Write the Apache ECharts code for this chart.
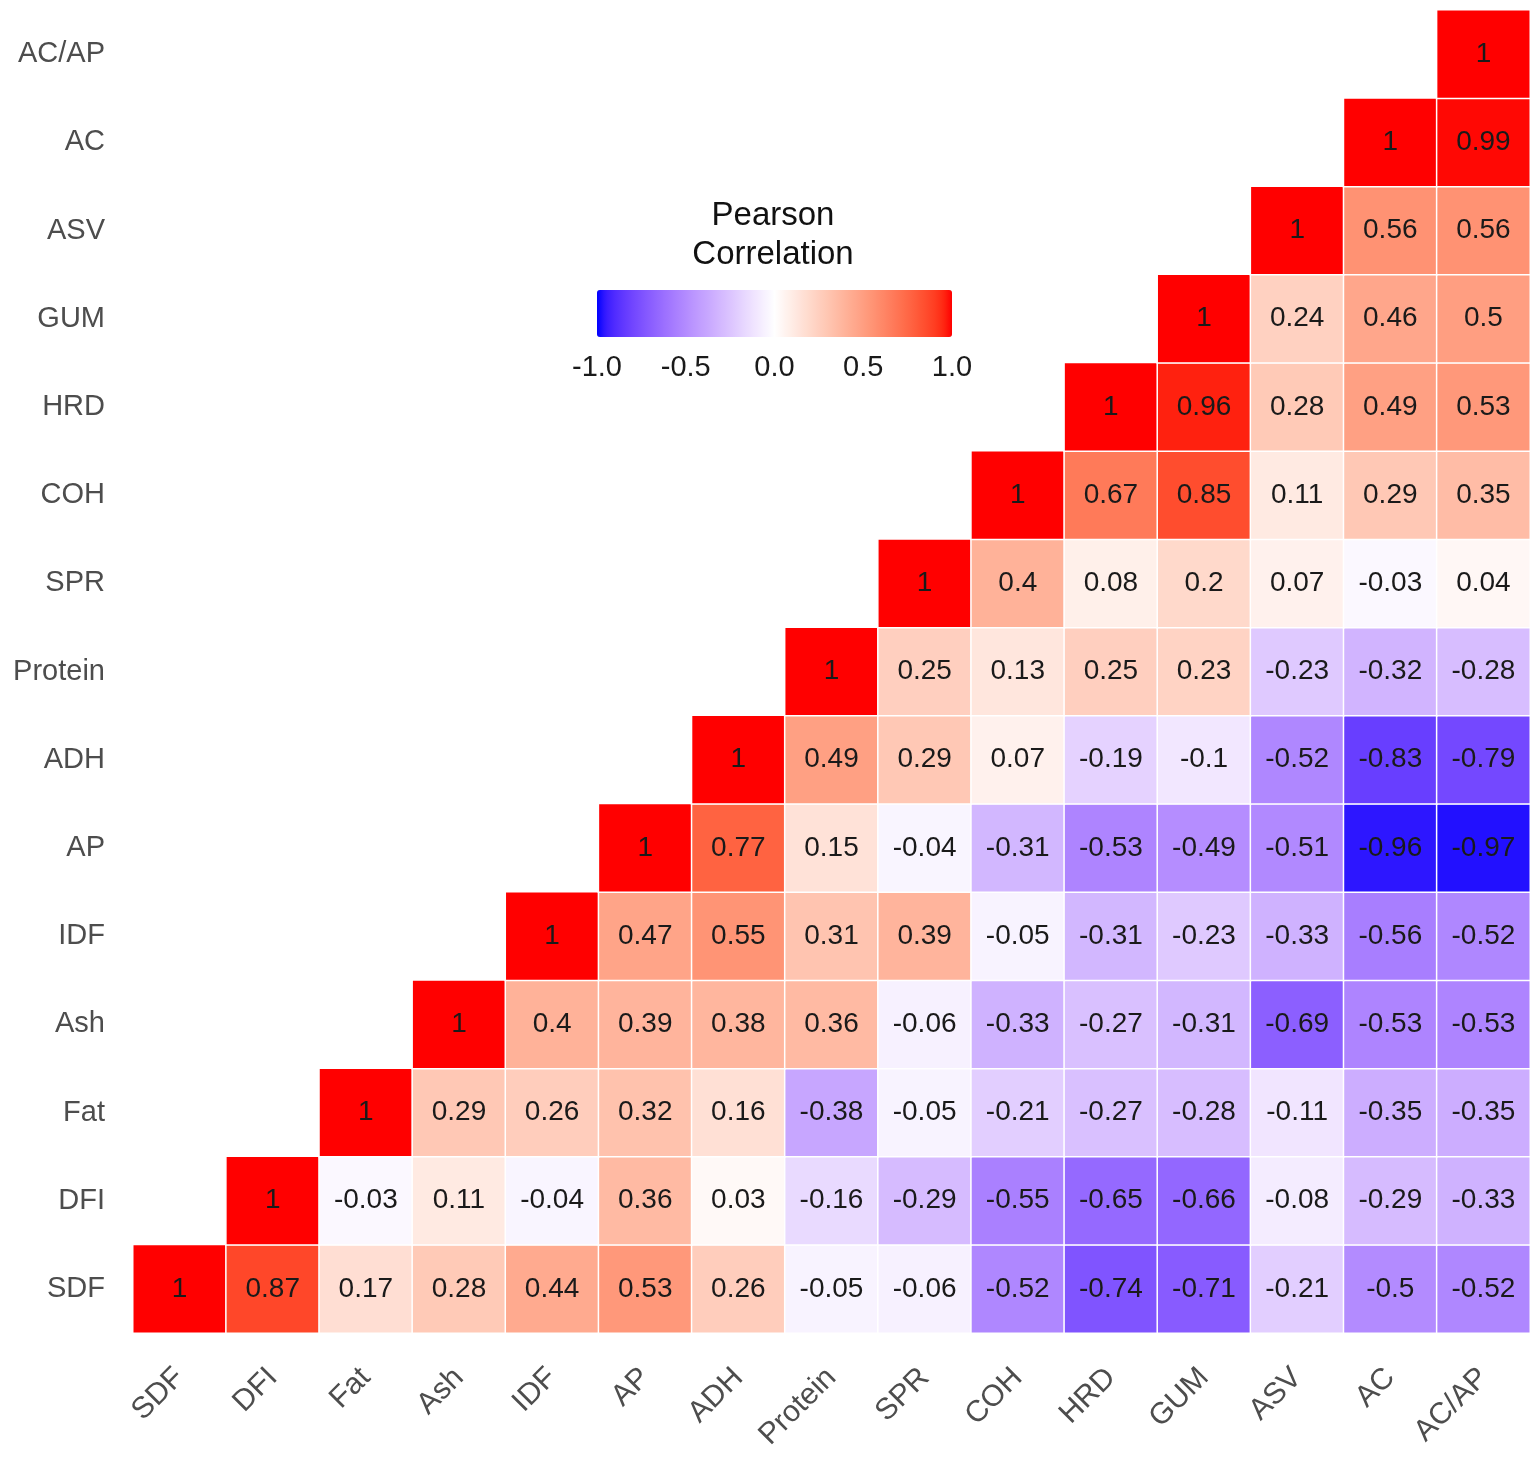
<!DOCTYPE html>
<html lang="en">
<head>
    <meta charset="UTF-8">
    <title>Pearson Correlation</title>
    <script src="https://cdn.jsdelivr.net/npm/echarts@6/dist/echarts.min.js"></script>
    <style>
        html, body { margin: 0; padding: 0; background: #fff; }
        #main { width: 1535px; height: 1462px; }
    </style>
</head>
<body>
    <div id="main"></div>
    <script>
        // variables, bottom to top on y, left to right on x
        var vars = ['SDF', 'DFI', 'Fat', 'Ash', 'IDF', 'AP', 'ADH', 'Protein', 'SPR', 'COH', 'HRD', 'GUM', 'ASV', 'AC', 'AC/AP'];

        // each row starts at the diagonal and runs right
        var rowSDF = [1, 0.87, 0.17, 0.28, 0.44, 0.53, 0.26, -0.05, -0.06, -0.52, -0.74, -0.71, -0.21, -0.5, -0.52];
        var rowDFI = [1, -0.03, 0.11, -0.04, 0.36, 0.03, -0.16, -0.29, -0.55, -0.65, -0.66, -0.08, -0.29, -0.33];
        var rowFat = [1, 0.29, 0.26, 0.32, 0.16, -0.38, -0.05, -0.21, -0.27, -0.28, -0.11, -0.35, -0.35];
        var rowAsh = [1, 0.4, 0.39, 0.38, 0.36, -0.06, -0.33, -0.27, -0.31, -0.69, -0.53, -0.53];
        var rowIDF = [1, 0.47, 0.55, 0.31, 0.39, -0.05, -0.31, -0.23, -0.33, -0.56, -0.52];
        var rowAP = [1, 0.77, 0.15, -0.04, -0.31, -0.53, -0.49, -0.51, -0.96, -0.97];
        var rowADH = [1, 0.49, 0.29, 0.07, -0.19, -0.1, -0.52, -0.83, -0.79];
        var rowProtein = [1, 0.25, 0.13, 0.25, 0.23, -0.23, -0.32, -0.28];
        var rowSPR = [1, 0.4, 0.08, 0.2, 0.07, -0.03, 0.04];
        var rowCOH = [1, 0.67, 0.85, 0.11, 0.29, 0.35];
        var rowHRD = [1, 0.96, 0.28, 0.49, 0.53];
        var rowGUM = [1, 0.24, 0.46, 0.5];
        var rowASV = [1, 0.56, 0.56];
        var rowAC = [1, 0.99];
        var rowACAP = [1];

        var legendTicks = [-1.0, -0.5, 0.0, 0.5, 1.0];

        var rows = [rowSDF, rowDFI, rowFat, rowAsh, rowIDF, rowAP, rowADH, rowProtein,
            rowSPR, rowCOH, rowHRD, rowGUM, rowASV, rowAC, rowACAP];

        var data = [];
        rows.forEach(function (row, j) {
            row.forEach(function (v, k) {
                data.push([j + k, j, v]);
            });
        });

        // blue - white - red, blended in Lab like ggplot's gradient2
        function toLab(hex) {
            var c = [1, 3, 5].map(function (i) {
                var v = parseInt(hex.substr(i, 2), 16) / 255;
                return v <= 0.04045 ? v / 12.92 : Math.pow((v + 0.055) / 1.055, 2.4);
            });
            var x = (0.4124 * c[0] + 0.3576 * c[1] + 0.1805 * c[2]) / 0.95047;
            var y = 0.2126 * c[0] + 0.7152 * c[1] + 0.0722 * c[2];
            var z = (0.0193 * c[0] + 0.1192 * c[1] + 0.9505 * c[2]) / 1.08883;
            var f = function (t) { return t > 0.008856 ? Math.cbrt(t) : 7.787 * t + 16 / 116; };
            return [116 * f(y) - 16, 500 * (f(x) - f(y)), 200 * (f(y) - f(z))];
        }
        function fromLab(lab) {
            var fy = (lab[0] + 16) / 116, fx = fy + lab[1] / 500, fz = fy - lab[2] / 200;
            var g = function (t) { return t * t * t > 0.008856 ? t * t * t : (t - 16 / 116) / 7.787; };
            var x = 0.95047 * g(fx), y = g(fy), z = 1.08883 * g(fz);
            var lin = [
                3.2406 * x - 1.5372 * y - 0.4986 * z,
                -0.9689 * x + 1.8758 * y + 0.0415 * z,
                0.0557 * x - 0.2040 * y + 1.0570 * z
            ];
            return 'rgb(' + lin.map(function (v) {
                v = Math.min(1, Math.max(0, v));
                v = v <= 0.0031308 ? 12.92 * v : 1.055 * Math.pow(v, 1 / 2.4) - 0.055;
                return Math.round(v * 255);
            }).join(',') + ')';
        }
        var lowLab = toLab('#0000FF'), midLab = toLab('#FFFFFF'), highLab = toLab('#FF0000');
        var ramp = [];
        for (var i = 0; i <= 40; i++) {
            var t = i / 40 * 2 - 1;
            var a = t < 0 ? lowLab : highLab, s = Math.abs(t);
            ramp.push(fromLab([0, 1, 2].map(function (d) { return midLab[d] + (a[d] - midLab[d]) * s; })));
        }

        var myChart = echarts.init(document.getElementById('main'));

        // colour bar position
        var barL = 597, barT = 290, barW = 355, barH = 47;
        var graphics = [{
            type: 'text',
            style: { text: 'Pearson\nCorrelation', x: 773, y: 196, textAlign: 'center', font: '33px "Liberation Sans", Arial', fill: '#111', lineHeight: 39 }
        }];
        legendTicks.forEach(function (v) {
            var px = barL + (v + 1) / 2 * barW;
            graphics.push({
                type: 'text',
                style: { text: v.toFixed(1), x: px, y: 353, textAlign: 'center', font: '29px "Liberation Sans", Arial', fill: '#1a1a1a' }
            });
            if (v > -1 && v < 1) {
                graphics.push({ type: 'line', shape: { x1: px, y1: barT, x2: px, y2: barT + 9 }, style: { stroke: '#fff', lineWidth: 1.5 } });
                graphics.push({ type: 'line', shape: { x1: px, y1: barT + barH - 9, x2: px, y2: barT + barH }, style: { stroke: '#fff', lineWidth: 1.5 } });
            }
        });

        var option = {
            backgroundColor: '#fff',
            textStyle: { fontFamily: '"Liberation Sans", Arial, sans-serif' },
            grid: { left: 133, right: 5, top: 10, bottom: 129 },
            xAxis: {
                type: 'category',
                data: vars,
                axisLine: { show: false },
                axisTick: { show: false },
                splitLine: { show: false },
                axisLabel: { rotate: 45, fontSize: 30, color: '#4d4d4d', margin: 40, interval: 0 }
            },
            yAxis: {
                type: 'category',
                data: vars,
                axisLine: { show: false },
                axisTick: { show: false },
                splitLine: { show: false },
                axisLabel: { fontSize: 29, color: '#4d4d4d', margin: 28, interval: 0 }
            },
            visualMap: {
                type: 'continuous',
                min: -1,
                max: 1,
                orient: 'horizontal',
                left: barL,
                top: barT,
                itemWidth: barH,
                itemHeight: barW,
                padding: 0,
                calculable: false,
                hoverLink: false,
                text: null,
                showLabel: false,
                inRange: { color: ramp }
            },
            graphic: graphics,
            series: [{
                type: 'heatmap',
                data: data,
                itemStyle: { borderColor: '#fff', borderWidth: 1.5 },
                label: {
                    show: true,
                    fontSize: 28,
                    color: '#1a1a1a',
                    formatter: function (p) { return String(p.value[2]); }
                }
            }]
        };

        myChart.setOption(option);
    </script>
</body>
</html>
